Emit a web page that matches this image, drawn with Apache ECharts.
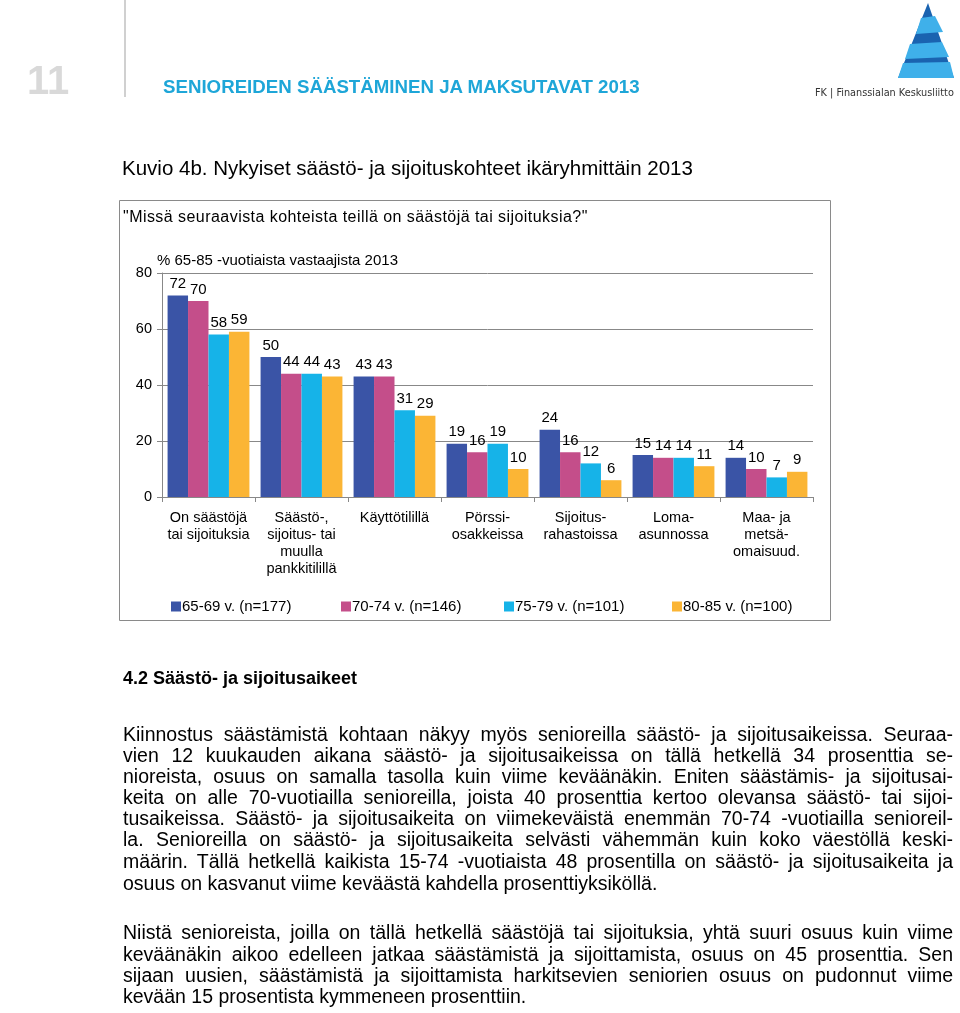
<!DOCTYPE html>
<html>
<head>
<meta charset="utf-8">
<script src="https://cdn.jsdelivr.net/npm/echarts@6/dist/echarts.min.js"></script>
<style>
  html, body { margin:0; padding:0; background:#fff; }
  body { width:960px; height:1013px; position:relative; overflow:hidden; font-family:"Liberation Sans", Arial, sans-serif; color:#000; }
  #chart { position:absolute; left:0; top:0; width:960px; height:1013px; }
  .abs { position:absolute; white-space:nowrap; }
  .line { position:absolute; left:123px; width:830px; height:21px; line-height:21px; font-size:19.5px; text-align:justify; text-align-last:justify; }
  .line.last { text-align:left; text-align-last:left; }
</style>
</head>
<body>
<div id="chart"></div>
<div class="abs" style="left:27px; top:60px; font-size:40px; font-weight:bold; color:#d9d9d9; line-height:40px;">11</div>
<div class="abs" style="left:124px; top:0; width:2px; height:97px; background:#d0d0d0;"></div>
<div class="abs" style="left:163px; top:76px; font-size:18.7px; font-weight:bold; color:#1ea6d8; line-height:22px;">SENIOREIDEN SÄÄSTÄMINEN JA MAKSUTAVAT 2013</div>
<div class="abs" style="left:815px; top:86px; font-size:10.8px; color:#333; line-height:14px; font-family:'Liberation Sans Narrow','DejaVu Sans Condensed',sans-serif;">FK | Finanssialan Keskusliitto</div>
<div class="abs" style="left:122px; top:156px; font-size:20.5px; line-height:24px;">Kuvio 4b. Nykyiset säästö- ja sijoituskohteet ikäryhmittäin 2013</div>
<div class="abs" style="left:123px; top:208px; font-size:16px; letter-spacing:0.45px; line-height:18px;">"Missä seuraavista kohteista teillä on säästöjä tai sijoituksia?"</div>
<div class="abs" style="left:123px; top:666px; font-size:18px; font-weight:bold; line-height:24px;">4.2 Säästö- ja sijoitusaikeet</div>

<div class="line" style="top:724px;">Kiinnostus säästämistä kohtaan näkyy myös senioreilla säästö- ja sijoitusaikeissa. Seuraa-</div>
<div class="line" style="top:745px;">vien 12 kuukauden aikana säästö- ja sijoitusaikeissa on tällä hetkellä 34 prosenttia se-</div>
<div class="line" style="top:766px;">nioreista, osuus on samalla tasolla kuin viime keväänäkin. Eniten säästämis- ja sijoitusai-</div>
<div class="line" style="top:787px;">keita on alle 70-vuotiailla senioreilla, joista 40 prosenttia kertoo olevansa säästö- tai sijoi-</div>
<div class="line" style="top:808px;">tusaikeissa. Säästö- ja sijoitusaikeita on viimekeväistä enemmän 70-74 -vuotiailla senioreil-</div>
<div class="line" style="top:829px;">la. Senioreilla on säästö- ja sijoitusaikeita selvästi vähemmän kuin koko väestöllä keski-</div>
<div class="line" style="top:851px;">määrin. Tällä hetkellä kaikista 15-74 -vuotiaista 48 prosentilla on säästö- ja sijoitusaikeita ja</div>
<div class="line last" style="top:873px;">osuus on kasvanut viime keväästä kahdella prosenttiyksiköllä.</div>

<div class="line" style="top:922px;">Niistä senioreista, joilla on tällä hetkellä säästöjä tai sijoituksia, yhtä suuri osuus kuin viime</div>
<div class="line" style="top:944px;">keväänäkin aikoo edelleen jatkaa säästämistä ja sijoittamista, osuus on 45 prosenttia. Sen</div>
<div class="line" style="top:965px;">sijaan uusien, säästämistä ja sijoittamista harkitsevien seniorien osuus on pudonnut viime</div>
<div class="line last" style="top:986px;">kevään 15 prosentista kymmeneen prosenttiin.</div>

<script>
const categories = ['On säästöjä\ntai sijoituksia', 'Säästö-,\nsijoitus- tai\nmuulla\npankkitilillä', 'Käyttötilillä', 'Pörssi-\nosakkeissa', 'Sijoitus-\nrahastoissa', 'Loma-\nasunnossa', 'Maa- ja\nmetsä-\nomaisuud.'];
const seriesNames = ['65-69 v. (n=177)', '70-74 v. (n=146)', '75-79 v. (n=101)', '80-85 v. (n=100)'];
const age65_69 = [72, 50, 43, 19, 24, 15, 14];
const age70_74 = [70, 44, 43, 16, 16, 14, 10];
const age75_79 = [58, 44, 31, 19, 12, 14, 7];
const age80_85 = [59, 43, 29, 10, 6, 11, 9];
const yTicks = [0, 20, 40, 60, 80];
const unitLabel = '% 65-85 -vuotiaista vastaajista 2013';

const colors = ['#3a54a6', '#c44e8a', '#16b3e8', '#fbb535'];
const values = [age65_69, age70_74, age75_79, age80_85];
const FONT = '"Liberation Sans", Arial, sans-serif';

const chart = echarts.init(document.getElementById('chart'), null, {renderer: 'canvas'});
const legendLefts = [166, 336, 499, 667];

chart.setOption({
  animation: false,
  backgroundColor: 'transparent',
  textStyle: { fontFamily: FONT },
  grid: { left: 162, top: 273, width: 651, height: 224, containLabel: false },
  legend: seriesNames.map((n, i) => ({
    data: [n], left: legendLefts[i], top: 594, icon: 'rect', itemWidth: 10, itemHeight: 10, itemGap: 0,
    textStyle: { fontSize: 15, color: '#000', fontFamily: FONT, padding: [0, 0, 0, -4] }
  })),
  xAxis: {
    type: 'category', data: categories,
    axisLine: { lineStyle: { color: '#888', width: 1 } },
    axisTick: { show: true, length: 5, lineStyle: { color: '#888' } },
    axisLabel: { interval: 0, fontSize: 14.5, lineHeight: 17, color: '#000', margin: 12, fontFamily: FONT }
  },
  yAxis: {
    type: 'value', min: 0, max: 80, interval: 20,
    axisLine: { show: true, lineStyle: { color: '#888', width: 1 } },
    axisTick: { show: true, length: 5, lineStyle: { color: '#888' } },
    splitLine: { lineStyle: { color: '#888', width: 1 } },
    axisLabel: { fontSize: 14.5, color: '#000', margin: 10, fontFamily: FONT,
      formatter: v => yTicks.includes(v) ? String(v) : '' }
  },
  graphic: [
    { type: 'rect', shape: { x: 119.5, y: 200.5, width: 711, height: 420 }, style: { fill: 'none', stroke: '#8a8a8a', lineWidth: 1 }, z: -1 },
    { type: 'text', left: 157, top: 253, style: { text: unitLabel, fontSize: 15, fill: '#000', fontFamily: FONT } },
    // logo
    { type: 'polygon', shape: { points: [[928,3],[898,78],[954,78]] }, style: { fill: '#1a63b0' } },
    { type: 'polygon', shape: { points: [[921,18],[935,16],[943,32],[916,34]] }, style: { fill: '#3fb0ea' } },
    { type: 'polygon', shape: { points: [[910,44],[942,42],[949,57],[905,59]] }, style: { fill: '#3fb0ea' } },
    { type: 'polygon', shape: { points: [[903,63],[950,62],[954,78],[898,78]] }, style: { fill: '#3fb0ea' } }
  ],
  series: seriesNames.map((n, i) => ({
    name: n, type: 'bar', data: values[i], barGap: '0%', barCategoryGap: '12%',
    itemStyle: { color: colors[i] },
    label: { show: true, position: 'top', distance: 4, fontSize: 15, color: '#000', fontFamily: FONT }
  }))
});
</script>
</body>
</html>
